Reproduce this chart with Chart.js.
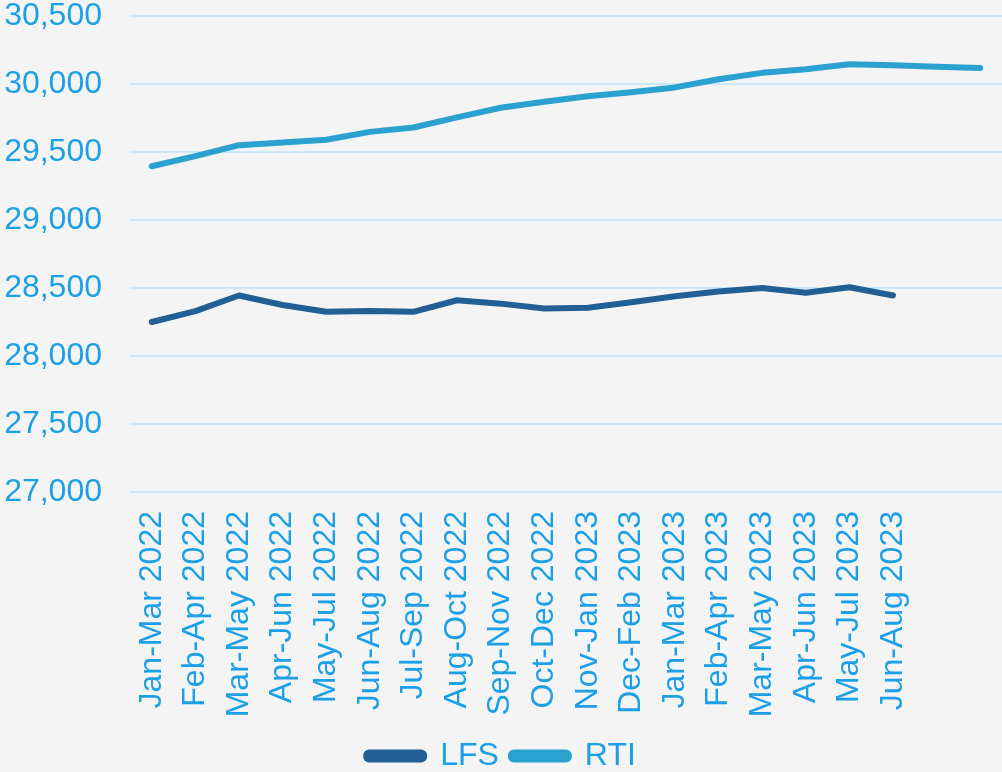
<!DOCTYPE html>
<html>
<head>
<meta charset="utf-8">
<script src="https://cdn.jsdelivr.net/npm/chart.js@4.4.1/dist/chart.umd.min.js"></script>
<style>
  html, body { margin: 0; padding: 0; background: #f4f4f4; }
  #wrap { width: 1002px; height: 772px; position: relative; }
</style>
</head>
<body>
<div id="wrap"><canvas id="employChart"></canvas></div>
<script>
// Rolling three-month periods (last two slots only carry RTI)
const periods = ["Jan-Mar 2022", "Feb-Apr 2022", "Mar-May 2022", "Apr-Jun 2022", "May-Jul 2022",
  "Jun-Aug 2022", "Jul-Sep 2022", "Aug-Oct 2022", "Sep-Nov 2022", "Oct-Dec 2022",
  "Nov-Jan 2023", "Dec-Feb 2023", "Jan-Mar 2023", "Feb-Apr 2023", "Mar-May 2023",
  "Apr-Jun 2023", "May-Jul 2023", "Jun-Aug 2023", "", ""];

// Employees (thousands)
const lfs = [28250, 28330, 28445, 28375, 28325, 28330, 28325, 28410, 28385, 28350,
  28355, 28395, 28440, 28475, 28500, 28465, 28505, 28445, null, null];
const rti = [29395, 29470, 29550, 29570, 29590, 29648, 29680, 29755, 29825, 29870,
  29910, 29940, 29975, 30035, 30082, 30108, 30145, 30137, 30127, 30118];

const yTicks = { min: 27000, max: 30500, step: 500 };

const textBlue = '#1b9fe6';
const baseFont = { family: "'Liberation Sans', Arial, sans-serif", size: 32 };

const ctx = document.getElementById('employChart').getContext('2d');

new Chart(ctx, {
  type: 'line',
  data: {
    labels: periods,
    datasets: [
      {
        label: 'LFS',
        data: lfs,
        borderColor: '#215f95',
        backgroundColor: '#215f95',
        borderWidth: 6,
        pointRadius: 0,
        tension: 0,
        borderCapStyle: 'round',
        borderJoinStyle: 'round'
      },
      {
        label: 'RTI',
        data: rti,
        borderColor: '#2ba1cf',
        backgroundColor: '#2ba1cf',
        borderWidth: 6,
        pointRadius: 0,
        tension: 0,
        borderCapStyle: 'round',
        borderJoinStyle: 'round'
      }
    ]
  },
  options: {
    responsive: true,
    maintainAspectRatio: false,
    animation: false,
    layout: { padding: { bottom: -10 } },
    scales: {
      x: {
        offset: true,
        grid: { display: false, drawTicks: false },
        border: { display: false },
        ticks: {
          color: textBlue,
          font: baseFont,
          minRotation: 90,
          maxRotation: 90,
          autoSkip: false,
          padding: 19
        },
        afterFit: function(scale) {
          scale.height = 236;
          scale.paddingLeft = 0;
          scale.paddingRight = 0;
          scale.paddingTop = 0;
          scale.paddingBottom = 0;
        }
      },
      y: {
        min: yTicks.min,
        max: yTicks.max,
        grid: { color: '#c8eafb', lineWidth: 2, drawTicks: false },
        border: { display: false },
        ticks: {
          stepSize: yTicks.step,
          color: textBlue,
          font: baseFont,
          padding: 28,
          callback: function(value) {
            return value.toLocaleString('en-US');
          }
        },
        afterFit: function(scale) {
          scale.width = 130;
          scale.paddingTop = 16;
          scale.paddingBottom = 0;
        }
      }
    },
    plugins: {
      legend: {
        position: 'bottom',
        labels: {
          color: textBlue,
          font: baseFont,
          boxWidth: 58,
          boxHeight: 7,
          padding: 12,
          useBorderRadius: true,
          borderRadius: 3
        }
      },
      tooltip: { enabled: false }
    }
  }
});
</script>
</body>
</html>
